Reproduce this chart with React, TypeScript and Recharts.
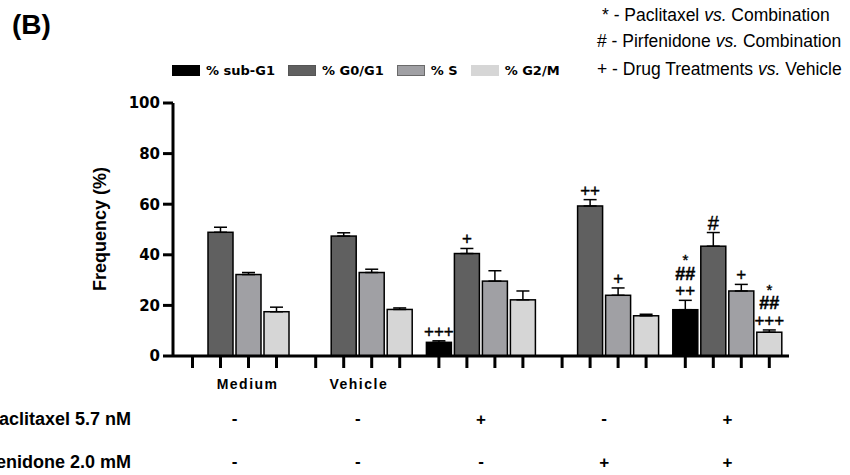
import React from 'react';
import { BarChart, Bar, XAxis, YAxis, ErrorBar, Legend } from 'recharts';

// ---------- data ----------
const groups = ['Medium', 'Vehicle', 'Paclitaxel', 'Pirfenidone', 'Combination'];
const groupLabels = ['Medium', 'Vehicle', '', '', ''];
const paclitaxelRow = ['-', '-', '+', '-', '+'];
const pirfenidoneRow = ['-', '-', '-', '+', '+'];

const subG1 = [0, 0, 5.4, 0, 18.3];
const subG1Err = [0, 0, 0.6, 0, 3.7];
const g0g1 = [48.9, 47.4, 40.5, 59.3, 43.4];
const g0g1Err = [2.0, 1.3, 2.0, 2.5, 5.4];
const sPhase = [32.2, 33.0, 29.6, 24.0, 25.7];
const sPhaseErr = [0.8, 1.3, 4.1, 2.9, 2.6];
const g2m = [17.5, 18.4, 22.2, 15.9, 9.4];
const g2mErr = [1.8, 0.6, 3.5, 0.6, 0.9];

const subG1Ann: string[][] = [[], [], ['+++'], [], ['*', '##', '++']];
const g0g1Ann: string[][] = [[], [], ['+'], ['++'], ['#']];
const sPhaseAnn: string[][] = [[], [], [], ['+'], ['+']];
const g2mAnn: string[][] = [[], [], [], [], ['*', '##', '+++']];

const yTicks = [0, 20, 40, 60, 80, 100];

const series = [
  { key: 'subG1', name: '% sub-G1', color: '#000000', border: '#000000', values: subG1, errs: subG1Err, ann: subG1Ann },
  { key: 'g0g1', name: '% G0/G1', color: '#606060', border: '#555555', values: g0g1, errs: g0g1Err, ann: g0g1Ann },
  { key: 's', name: '% S', color: '#a0a0a4', border: '#6a6a6a', values: sPhase, errs: sPhaseErr, ann: sPhaseAnn },
  { key: 'g2m', name: '% G2/M', color: '#d6d6d6', border: '#d6d6d6', values: g2m, errs: g2mErr, ann: g2mAnn },
];

const data = groups.map((g, i) => {
  const row: any = { group: g };
  series.forEach((s) => {
    row[s.key] = s.values[i];
    row[s.key + 'Err'] = [0, s.errs[i]];
  });
  return row;
});

// ---------- rendering ----------
const SANS = 'Liberation Sans, Arial, sans-serif';

const annStyle = (line: string) => {
  if (line.startsWith('#')) return { size: line.length > 1 ? 18 : 20, weight: line.length > 1 ? 'bold' : 'normal', lift: 0.35 };
  if (line.startsWith('*')) return { size: 15, weight: 'normal', lift: 0.58 };
  return { size: 17, weight: 'normal', lift: 0.35 };
};

const makeShape = (sIdx: number) => (props: any) => {
  const { x, y, width, height, fill } = props;
  const s = series[sIdx];
  let i = groups.indexOf(props?.payload?.group);
  if (i < 0) i = props.index ?? 0;
  const base = y + height;
  const cx = x + width / 2;
  const v = s.values[i];
  const lines = s.ann[i] || [];
  const ppu = v > 0 ? height / v : 0;
  const errTop = y - s.errs[i] * ppu;
  return (
    <g>
      {height > 0 && (
        <rect x={x} y={y} width={width} height={height} fill={fill} stroke="#000" strokeWidth={1.5} />
      )}
      <line x1={cx} x2={cx} y1={base} y2={base + 12} stroke="#000" strokeWidth={3} />
      {v > 0 &&
        lines.map((ln, k) => {
          const st = annStyle(ln);
          const centerY = errTop - 10 - (lines.length - 1 - k) * 17;
          return (
            <text
              key={k}
              x={cx}
              y={centerY + st.lift * st.size}
              textAnchor="middle"
              fontFamily={SANS}
              fontSize={st.size}
              fontWeight={st.weight as any}
              fill="#000"
              stroke="#000"
              strokeWidth={0.4}
            >
              {ln}
            </text>
          );
        })}
    </g>
  );
};

const LABEL_SHIFT = [13, 1, 0, 0, 0];

const GroupTick = (props: any) => {
  const { x, y, payload } = props;
  let i = groups.indexOf(payload?.value);
  if (i < 0) i = props.index ?? 0;
  const signY = (sign: string, center: number) => center + (sign === '+' ? 6 : 4.5);
  return (
    <g>
      {groupLabels[i] && (
        <text
          x={x + LABEL_SHIFT[i]}
          y={y + 33}
          textAnchor="middle"
          fontFamily={SANS}
          fontWeight="bold"
          fontSize={14}
          letterSpacing={1.5}
          fill="#000"
        >
          {groupLabels[i]}
        </text>
      )}
      <text x={x} y={signY(paclitaxelRow[i], y + 63)} textAnchor="middle" fontFamily={SANS} fontWeight="bold" fontSize={17} fill="#000">
        {paclitaxelRow[i]}
      </text>
      <text x={x} y={signY(pirfenidoneRow[i], y + 106)} textAnchor="middle" fontFamily={SANS} fontWeight="bold" fontSize={17} fill="#000">
        {pirfenidoneRow[i]}
      </text>
    </g>
  );
};

const renderLegend = () => (
  <div
    style={{
      display: 'flex',
      alignItems: 'center',
      fontFamily: 'DejaVu Sans, sans-serif',
      fontWeight: 'bold',
      fontSize: 13,
      color: '#000',
      whiteSpace: 'nowrap',
    }}
  >
    {series.map((s) => (
      <div key={s.key} style={{ display: 'flex', alignItems: 'center', marginRight: 13 }}>
        <span
          style={{
            display: 'inline-block',
            width: 28,
            height: 11,
            background: s.color,
            border: '1px solid ' + s.border,
            boxSizing: 'border-box',
            marginRight: 6,
          }}
        />
        <span>{s.name}</span>
      </div>
    ))}
  </div>
);

const noteStyle = { fontFamily: SANS, fontSize: 17.5, fill: '#000' } as any;

export default function App() {
  return (
    <div style={{ width: 850, height: 475, position: 'relative', background: '#fff' }}>
      <style>{`body{margin:0;background:#fff;}`}</style>
      <BarChart
        width={850}
        height={475}
        data={data}
        margin={{ top: 103, right: 61, bottom: 0, left: 113 }}
        barSize={25}
        barGap={3}
      >
        {series.map((s, idx) => (
          <Bar
            key={s.key}
            dataKey={s.key}
            name={s.name}
            fill={s.color}
            isAnimationActive={false}
            shape={makeShape(idx)}
          >
            <ErrorBar dataKey={s.key + 'Err'} width={6.5} stroke="#000" strokeWidth={1.5} direction="y" />
          </Bar>
        ))}
        <XAxis
          dataKey="group"
          height={119}
          tickSize={0}
          tickMargin={0}
          tickLine={false}
          interval={0}
          axisLine={{ stroke: '#000', strokeWidth: 3 }}
          tick={<GroupTick />}
        />
        <YAxis
          domain={[0, 100]}
          ticks={yTicks}
          interval={0}
          width={60}
          tickSize={10}
          tickMargin={3}
          axisLine={{ stroke: '#000', strokeWidth: 3 }}
          tickLine={{ stroke: '#000', strokeWidth: 3 }}
          tick={{ fill: '#000', fontSize: 15, fontWeight: 'bold', fontFamily: 'DejaVu Sans, sans-serif' }}
        />
        <Legend
          layout="horizontal"
          verticalAlign="middle"
          align="center"
          content={renderLegend}
          wrapperStyle={{ top: 63, left: 172, width: 420, height: 14 }}
        />
        <text x={12} y={34} fontFamily={SANS} fontWeight="bold" fontSize={28} fill="#000">(B)</text>
        <text x={602} y={21} {...noteStyle}>
          * - Paclitaxel <tspan fontStyle="italic">vs.</tspan> Combination
        </text>
        <text x={597} y={47} {...noteStyle}>
          # - Pirfenidone <tspan fontStyle="italic">vs.</tspan> Combination
        </text>
        <text x={597} y={75} {...noteStyle}>
          + - Drug Treatments <tspan fontStyle="italic">vs.</tspan> Vehicle
        </text>
        <text
          x={106}
          y={229}
          transform="rotate(-90 106 229)"
          textAnchor="middle"
          fontFamily={SANS}
          fontWeight="bold"
          fontSize={18}
          fill="#000"
        >
          Frequency (%)
        </text>
        <text x={131} y={425} textAnchor="end" fontFamily={SANS} fontWeight="bold" fontSize={18} fill="#000">
          Paclitaxel 5.7 nM
        </text>
        <text x={131} y={468} textAnchor="end" fontFamily={SANS} fontWeight="bold" fontSize={18} fill="#000">
          Pirfenidone 2.0 mM
        </text>
      </BarChart>
    </div>
  );
}
